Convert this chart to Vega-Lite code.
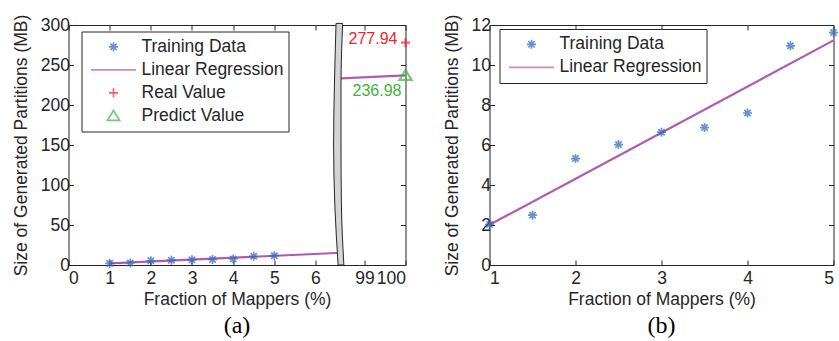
{
  "$schema": "https://vega.github.io/schema/vega-lite/v6.json",
  "background": "white",
  "padding": {"left": 11.5, "top": 14, "right": 4, "bottom": 0},
  "datasets": {
    "training": [
      {"x": 1.0, "y": 2.03, "series": "Training Data"},
      {"x": 1.5, "y": 2.49, "series": "Training Data"},
      {"x": 2.0, "y": 5.32, "series": "Training Data"},
      {"x": 2.5, "y": 6.02, "series": "Training Data"},
      {"x": 3.0, "y": 6.64, "series": "Training Data"},
      {"x": 3.5, "y": 6.87, "series": "Training Data"},
      {"x": 4.0, "y": 7.6, "series": "Training Data"},
      {"x": 4.5, "y": 10.96, "series": "Training Data"},
      {"x": 5.0, "y": 11.62, "series": "Training Data"}
    ],
    "fitA": [
      {"x": 1.0, "y": 2.0, "part": "low", "series": "Linear Regression"},
      {"x": 6.62, "y": 15.34, "part": "low", "series": "Linear Regression"},
      {"x": 98.43, "y": 233.25, "part": "high", "series": "Linear Regression"},
      {"x": 100, "y": 236.98, "part": "high", "series": "Linear Regression"}
    ],
    "checkA": [
      {"x": 100, "y": 277.94, "series": "Real Value"},
      {"x": 100, "y": 236.98, "series": "Predict Value"}
    ],
    "breakA": [
      {"y": 0, "xl": 6.55, "xr": 98.5},
      {"y": 75, "xl": 6.47, "xr": 98.44},
      {"y": 150, "xl": 6.44, "xr": 98.41},
      {"y": 225, "xl": 6.46, "xr": 98.43},
      {"y": 302, "xl": 6.5, "xr": 98.47}
    ],
    "fitB": [
      {"x": 1, "y": 2.01, "series": "Linear Regression"},
      {"x": 5, "y": 11.23, "series": "Linear Regression"}
    ]
  },
  "config": {
    "font": "Liberation Sans",
    "view": {"stroke": null},
    "axis": {
      "grid": false,
      "domainColor": "#262626",
      "domainWidth": 1,
      "tickColor": "#262626",
      "tickSize": -5,
      "labelFont": "Liberation Sans",
      "labelFontSize": 17.5,
      "labelColor": "#262626",
      "labelPadding": 9,
      "titleFont": "Liberation Sans",
      "titleFontSize": 17.5,
      "titleFontWeight": "normal",
      "titleColor": "#262626"
    },
    "legend": {
      "orient": "none",
      "title": null,
      "strokeColor": "#262626",
      "fillColor": "white",
      "padding": 4,
      "labelFont": "Liberation Sans",
      "labelFontSize": 17.5,
      "labelColor": "#262626",
      "labelOffset": 4.5,
      "symbolOffset": 4.5,
      "symbolSize": 2025,
      "symbolStrokeWidth": 2,
      "clipHeight": 22.7,
      "rowPadding": 0
    },
    "point": {"filled": false, "size": 2025, "strokeWidth": 1.7},
    "title": {"font": "Liberation Serif", "fontSize": 24, "fontWeight": "normal", "color": "#000000"}
  },
  "hconcat": [
    {
      "width": 337,
      "height": 240,
      "title": {"text": "(a)", "orient": "bottom", "anchor": "middle", "offset": 6},
      "layer": [
        {
          "data": {"name": "fitA"},
          "mark": {"type": "line", "strokeWidth": 2.2},
          "encoding": {
            "x": {"field": "x", "type": "quantitative",
                  "scale": {"domain": [0, 6.62, 98.43, 100], "range": [0, 272.5, 272.5, 337], "nice": false, "zero": false},
                  "axis": {"orient": "top", "labels": false, "title": null, "values": [0, 1, 2, 3, 4, 5, 6, 99, 100]}},
            "y": {"field": "y", "type": "quantitative",
                  "scale": {"domain": [0, 300], "nice": false},
                  "axis": {"orient": "right", "labels": false, "title": null, "values": [0, 50, 100, 150, 200, 250, 300]}},
            "detail": {"field": "part"},
            "color": {"field": "series", "type": "nominal",
                      "scale": {"domain": ["Training Data", "Linear Regression", "Real Value", "Predict Value"],
                                "range": ["#2a66bb", "#b25ab2", "#f5232d", "#3cb43c"]},
                      "legend": {"legendX": 13, "legendY": 6.5}}
          }
        },
        {
          "data": {"name": "training"},
          "mark": {"type": "point", "strokeWidth": 1.7},
          "encoding": {
            "x": {"field": "x", "type": "quantitative",
                  "scale": {"domain": [0, 6.62, 98.43, 100], "range": [0, 272.5, 272.5, 337], "nice": false, "zero": false},
                  "axis": {"orient": "bottom", "title": "Fraction of Mappers (%)", "values": [0, 1, 2, 3, 4, 5, 6, 99, 100]}},
            "y": {"field": "y", "type": "quantitative",
                  "scale": {"domain": [0, 300], "nice": false},
                  "axis": {"orient": "left", "title": "Size of Generated Partitions (MB)", "values": [0, 50, 100, 150, 200, 250, 300], "labelPadding": 4, "titlePadding": 10}},
            "color": {"field": "series", "type": "nominal",
                      "scale": {"domain": ["Training Data", "Linear Regression", "Real Value", "Predict Value"],
                                "range": ["#2a66bb", "#b25ab2", "#f5232d", "#3cb43c"]},
                      "legend": {"legendX": 13, "legendY": 6.5}},
            "shape": {"field": "series", "type": "nominal",
                      "scale": {"domain": ["Training Data", "Linear Regression", "Real Value", "Predict Value"],
                                "range": ["M-0.2,0L0.2,0M0,-0.2L0,0.2M-0.14,-0.14L0.14,0.14M-0.14,0.14L0.14,-0.14",
                                          "M-1,0L1,0",
                                          "M-0.2,0L0.2,0M0,-0.2L0,0.2",
                                          "M0,-0.24L0.27,0.2L-0.27,0.2Z"]},
                      "legend": {"legendX": 13, "legendY": 6.5}}
          }
        },
        {
          "data": {"name": "checkA"},
          "mark": {"type": "point", "strokeWidth": 2.2},
          "encoding": {
            "x": {"field": "x", "type": "quantitative",
                  "scale": {"domain": [0, 6.62, 98.43, 100], "range": [0, 272.5, 272.5, 337], "nice": false, "zero": false},
                  "axis": null},
            "y": {"field": "y", "type": "quantitative", "scale": {"domain": [0, 300], "nice": false}, "axis": null},
            "color": {"field": "series", "type": "nominal",
                      "scale": {"domain": ["Training Data", "Linear Regression", "Real Value", "Predict Value"],
                                "range": ["#2a66bb", "#b25ab2", "#f5232d", "#3cb43c"]},
                      "legend": {"legendX": 13, "legendY": 6.5}},
            "shape": {"field": "series", "type": "nominal",
                      "scale": {"domain": ["Training Data", "Linear Regression", "Real Value", "Predict Value"],
                                "range": ["M-0.2,0L0.2,0M0,-0.2L0,0.2M-0.14,-0.14L0.14,0.14M-0.14,0.14L0.14,-0.14",
                                          "M-1,0L1,0",
                                          "M-0.2,0L0.2,0M0,-0.2L0,0.2",
                                          "M0,-0.24L0.27,0.2L-0.27,0.2Z"]},
                      "legend": {"legendX": 13, "legendY": 6.5}}
          }
        },
        {
          "data": {"name": "checkA"},
          "transform": [{"filter": "datum.series === 'Real Value'"}],
          "mark": {"type": "text", "align": "right", "baseline": "middle", "dx": -8, "dy": -4, "fontSize": 16, "color": "#f5232d"},
          "encoding": {
            "x": {"field": "x", "type": "quantitative",
                  "scale": {"domain": [0, 6.62, 98.43, 100], "range": [0, 272.5, 272.5, 337], "nice": false, "zero": false},
                  "axis": null},
            "y": {"field": "y", "type": "quantitative", "scale": {"domain": [0, 300], "nice": false}, "axis": null},
            "text": {"field": "y", "type": "quantitative", "format": ".2f"}
          }
        },
        {
          "data": {"name": "checkA"},
          "transform": [{"filter": "datum.series === 'Predict Value'"}],
          "mark": {"type": "text", "align": "right", "baseline": "middle", "dx": -4, "dy": 16, "fontSize": 16, "color": "#3cb43c"},
          "encoding": {
            "x": {"field": "x", "type": "quantitative",
                  "scale": {"domain": [0, 6.62, 98.43, 100], "range": [0, 272.5, 272.5, 337], "nice": false, "zero": false},
                  "axis": null},
            "y": {"field": "y", "type": "quantitative", "scale": {"domain": [0, 300], "nice": false}, "axis": null},
            "text": {"field": "y", "type": "quantitative", "format": ".2f"}
          }
        },
        {
          "data": {"name": "breakA"},
          "mark": {"type": "area", "orient": "horizontal", "interpolate": "monotone", "fill": "#d4d4d4", "stroke": "#262626", "strokeWidth": 1},
          "encoding": {
            "y": {"field": "y", "type": "quantitative", "scale": {"domain": [0, 300], "nice": false}, "axis": null},
            "x": {"field": "xl", "type": "quantitative",
                  "scale": {"domain": [0, 6.62, 98.43, 100], "range": [0, 272.5, 272.5, 337], "nice": false, "zero": false},
                  "axis": null},
            "x2": {"field": "xr"}
          }
        }
      ],
      "resolve": {"axis": {"x": "independent", "y": "independent"}}
    },
    {
      "width": 344,
      "height": 240,
      "title": {"text": "(b)", "orient": "bottom", "anchor": "middle", "offset": 6},
      "layer": [
        {
          "data": {"name": "fitB"},
          "mark": {"type": "line", "strokeWidth": 2.2},
          "encoding": {
            "x": {"field": "x", "type": "quantitative", "scale": {"domain": [1, 5], "nice": false, "zero": false},
                  "axis": {"orient": "top", "labels": false, "title": null, "values": [1, 2, 3, 4, 5]}},
            "y": {"field": "y", "type": "quantitative", "scale": {"domain": [0, 12], "nice": false},
                  "axis": {"orient": "right", "labels": false, "title": null, "values": [0, 2, 4, 6, 8, 10, 12]}},
            "color": {"field": "series", "type": "nominal",
                      "scale": {"domain": ["Training Data", "Linear Regression"], "range": ["#2a66bb", "#b25ab2"]},
                      "legend": {"legendX": 10, "legendY": 4}}
          }
        },
        {
          "data": {"name": "training"},
          "mark": {"type": "point", "strokeWidth": 1.7},
          "encoding": {
            "x": {"field": "x", "type": "quantitative", "scale": {"domain": [1, 5], "nice": false, "zero": false},
                  "axis": {"orient": "bottom", "title": "Fraction of Mappers (%)", "values": [1, 2, 3, 4, 5]}},
            "y": {"field": "y", "type": "quantitative", "scale": {"domain": [0, 12], "nice": false},
                  "axis": {"orient": "left", "title": "Size of Generated Partitions (MB)", "values": [0, 2, 4, 6, 8, 10, 12], "labelPadding": 4, "titlePadding": 10}},
            "color": {"field": "series", "type": "nominal",
                      "scale": {"domain": ["Training Data", "Linear Regression"], "range": ["#2a66bb", "#b25ab2"]},
                      "legend": {"legendX": 10, "legendY": 4}},
            "shape": {"field": "series", "type": "nominal",
                      "scale": {"domain": ["Training Data", "Linear Regression"],
                                "range": ["M-0.2,0L0.2,0M0,-0.2L0,0.2M-0.14,-0.14L0.14,0.14M-0.14,0.14L0.14,-0.14", "M-1,0L1,0"]},
                      "legend": {"legendX": 10, "legendY": 4}}
          }
        }
      ],
      "resolve": {"axis": {"x": "independent", "y": "independent"}}
    }
  ],
  "spacing": 84,
  "bounds": "flush",
  "resolve": {
    "scale": {"x": "independent", "y": "independent", "color": "independent", "shape": "independent"},
    "legend": {"color": "independent", "shape": "independent"}
  }
}
